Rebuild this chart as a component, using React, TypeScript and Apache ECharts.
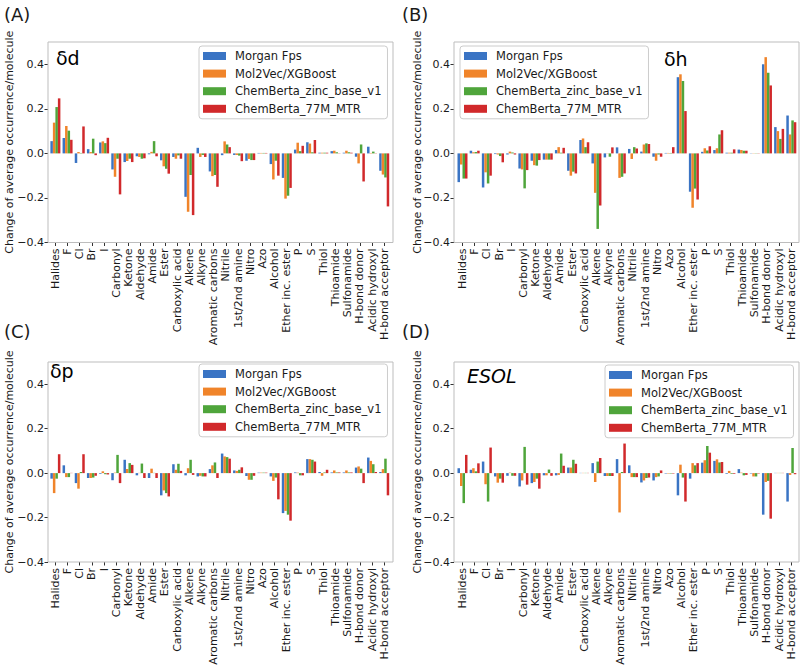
import React, { useEffect, useRef } from 'react';
import * as echarts from 'echarts';

const categories = [
  'Halides', 'F', 'Cl', 'Br', 'I', 'Carbonyl', 'Ketone', 'Aldehyde', 'Amide', 'Ester',
  'Carboxylic acid', 'Alkene', 'Alkyne', 'Aromatic carbons', 'Nitrile', '1st/2nd amine',
  'Nitro', 'Azo', 'Alcohol', 'Ether inc. ester', 'P', 'S', 'Thiol', 'Thioamide',
  'Sulfonamide', 'H-bond donor', 'Acidic hydroxyl', 'H-bond acceptor',
];

const seriesNames = ['Morgan Fps', 'Mol2Vec/XGBoost', 'ChemBerta_zinc_base_v1', 'ChemBerta_77M_MTR'];
const seriesColors = ['#3a74c4', '#f0842a', '#4fa53b', '#d1292b'];

// Panel A: δd
const ddMorgan = [0.055, 0.069, -0.043, 0.019, 0.049, -0.072, -0.039, -0.013, -0.004, -0.031, -0.016, -0.195, 0.025, -0.081, -0.008, -0.007, -0.033, 0.002, -0.048, -0.110, 0.017, 0.050, 0.003, 0.010, 0.003, -0.015, 0.030, -0.078];
const ddMol2Vec = [0.138, 0.123, 0.006, 0.006, 0.054, -0.105, -0.034, -0.016, 0.007, -0.058, -0.024, -0.262, -0.016, -0.102, 0.054, -0.007, -0.025, 0.002, -0.117, -0.203, 0.048, 0.044, 0.003, 0.012, 0.012, -0.045, 0.002, -0.095];
const ddZinc = [0.208, 0.102, 0.002, 0.066, 0.046, -0.024, -0.024, -0.024, 0.055, -0.069, -0.009, -0.097, -0.007, -0.097, 0.040, -0.010, -0.030, 0.002, -0.033, -0.190, 0.010, 0.005, 0.003, 0.005, 0.005, 0.040, 0.008, -0.108];
const dd77M = [0.247, 0.061, 0.121, -0.008, 0.070, -0.184, -0.039, -0.022, -0.013, -0.091, -0.024, -0.277, -0.016, -0.150, 0.028, -0.035, -0.030, 0.002, -0.100, -0.155, 0.034, 0.060, 0.003, 0.001, 0.003, -0.126, 0.001, -0.238];

// Panel B: δh
const dhMorgan = [-0.129, 0.012, -0.153, -0.003, -0.005, -0.068, -0.033, -0.028, 0.015, -0.078, 0.060, -0.045, -0.018, 0.027, 0.020, 0.008, -0.015, 0.002, 0.342, -0.172, 0.007, 0.015, 0.003, 0.017, 0.001, 0.400, 0.118, 0.170];
const dhMol2Vec = [-0.050, 0.005, -0.085, -0.005, 0.008, -0.072, -0.053, -0.028, 0.028, -0.100, 0.067, -0.177, 0.001, -0.110, -0.025, 0.040, -0.033, 0.002, 0.355, -0.244, 0.023, 0.023, 0.003, 0.015, 0.001, 0.432, 0.100, 0.085];
const dhZinc = [-0.113, 0.006, -0.135, -0.012, 0.004, -0.157, -0.055, -0.028, 0.003, -0.082, 0.028, -0.339, -0.015, -0.105, 0.028, 0.045, -0.005, 0.002, 0.325, -0.158, 0.013, 0.085, 0.003, 0.012, 0.001, 0.362, 0.065, 0.148];
const dh77M = [-0.113, 0.012, -0.100, -0.040, -0.005, -0.075, -0.030, -0.028, 0.025, -0.090, 0.050, -0.234, 0.027, -0.090, 0.022, 0.042, -0.015, 0.028, 0.190, -0.207, 0.032, 0.104, 0.018, 0.012, 0.001, 0.305, 0.110, 0.140];

// Panel C: δp
const dpMorgan = [-0.025, 0.035, -0.045, -0.022, -0.003, -0.032, 0.060, -0.010, -0.022, -0.100, 0.040, -0.010, -0.015, 0.018, 0.088, 0.012, -0.013, 0.002, -0.015, -0.180, 0.003, 0.063, 0.005, 0.003, 0.003, 0.025, 0.070, 0.005];
const dpMol2Vec = [-0.090, -0.018, -0.070, -0.022, 0.008, 0.002, 0.018, 0.001, 0.020, -0.078, 0.015, 0.022, -0.012, 0.035, 0.075, 0.010, -0.030, 0.002, -0.035, -0.170, 0.002, 0.063, -0.012, 0.012, 0.012, 0.030, 0.055, 0.018];
const dpZinc = [-0.025, -0.018, 0.005, -0.020, -0.005, 0.082, 0.045, 0.043, 0.001, -0.090, 0.042, 0.060, -0.015, 0.048, 0.072, 0.015, -0.030, 0.002, -0.020, -0.187, -0.010, 0.060, 0.003, 0.003, 0.003, 0.020, 0.040, 0.065];
const dp77M = [0.085, 0.001, 0.085, -0.012, -0.006, -0.045, 0.037, -0.022, -0.022, -0.105, 0.010, -0.008, -0.015, -0.022, 0.065, 0.026, -0.012, 0.002, -0.118, -0.214, -0.010, 0.052, 0.015, 0.003, 0.003, -0.045, 0.005, -0.100];

// Panel D: ESOL
const esMorgan = [0.022, 0.015, 0.052, -0.015, -0.012, -0.060, -0.045, -0.010, -0.010, 0.025, 0.001, 0.045, -0.013, 0.063, 0.035, -0.042, -0.033, -0.002, -0.100, -0.025, 0.047, 0.055, -0.003, 0.018, -0.002, -0.187, 0.001, -0.128];
const esMol2Vec = [-0.058, 0.022, -0.050, -0.043, 0.002, -0.033, -0.040, -0.010, -0.008, 0.025, 0.001, -0.040, -0.013, -0.177, -0.018, -0.033, -0.018, -0.002, 0.038, 0.045, 0.058, 0.062, 0.010, 0.002, -0.015, -0.040, 0.001, -0.008];
const esZinc = [-0.135, 0.008, -0.128, -0.025, -0.012, 0.118, -0.025, 0.016, 0.088, 0.060, 0.001, 0.052, -0.013, 0.005, -0.018, -0.022, -0.015, -0.002, -0.020, 0.035, 0.122, 0.048, -0.003, -0.010, -0.015, -0.035, 0.001, 0.113];
const es77M = [0.082, 0.044, 0.115, -0.043, -0.012, -0.052, -0.070, -0.012, 0.033, 0.042, 0.001, 0.068, -0.013, 0.133, -0.018, -0.020, 0.012, -0.002, -0.128, 0.045, 0.092, 0.050, -0.003, -0.008, -0.002, -0.205, 0.001, -0.005];

const yMin = -0.4;
const yMax = 0.5;
const yInterval = 0.2;
const yAxisTitle = 'Change of average occurrence/molecule';

const FONT = 'DejaVu Sans';
const TEXT = '#1a1a1a';

const panels = [
  {
    label: '(A)', title: 'δd', italic: false,
    data: [ddMorgan, ddMol2Vec, ddZinc, dd77M],
    grid: { left: 49.3, top: 42, width: 341, height: 200.5 },
    frame: { x: 48, y: 42, w: 345, h: 200.5 },
    legendPos: { left: 199, top: 46 },
    titlePos: { x: 56, y: 58 },
    labelPos: { x: 4, y: 14 },
    yTitleX: 9,
  },
  {
    label: '(B)', title: 'δh', italic: false,
    data: [dhMorgan, dhMol2Vec, dhZinc, dh77M],
    grid: { left: 456.4, top: 42, width: 341, height: 200.5 },
    frame: { x: 454, y: 42, w: 345, h: 200.5 },
    legendPos: { left: 460, top: 46 },
    titlePos: { x: 664, y: 59 },
    labelPos: { x: 402, y: 14 },
    yTitleX: 417,
  },
  {
    label: '(C)', title: 'δp', italic: false,
    data: [dpMorgan, dpMol2Vec, dpZinc, dp77M],
    grid: { left: 49.3, top: 362, width: 341, height: 200 },
    frame: { x: 48, y: 362, w: 345, h: 200 },
    legendPos: { left: 199, top: 364 },
    titlePos: { x: 50, y: 371 },
    labelPos: { x: 4, y: 331 },
    yTitleX: 9,
  },
  {
    label: '(D)', title: 'ESOL', italic: true,
    data: [esMorgan, esMol2Vec, esZinc, es77M],
    grid: { left: 456.4, top: 362, width: 341, height: 200 },
    frame: { x: 454, y: 362, w: 345, h: 200 },
    legendPos: { left: 605, top: 365 },
    titlePos: { x: 467, y: 376 },
    labelPos: { x: 402, y: 331 },
    yTitleX: 417,
  },
];

function fmtY(v: number) {
  if (Math.abs(v - yMax) < 1e-9) return '';
  const s = Math.abs(v).toFixed(1);
  return v < -1e-9 ? '\u2212' + s : s;
}

export default function App() {
  const ref = useRef<HTMLDivElement>(null);

  useEffect(() => {
    if (!ref.current) return;
    const chart = echarts.init(ref.current, undefined, { renderer: 'svg' });

    const grids: any[] = [];
    const xAxes: any[] = [];
    const yAxes: any[] = [];
    const series: any[] = [];
    const legends: any[] = [];
    const graphics: any[] = [];

    panels.forEach((p, i) => {
      grids.push({ ...p.grid, containLabel: false, show: false });
      xAxes.push({
        type: 'category',
        gridIndex: i,
        data: categories,
        axisLine: { show: false, onZero: false },
        axisTick: { show: true, alignWithLabel: true, length: 3.5, lineStyle: { color: '#333' } },
        axisLabel: { rotate: 90, interval: 0, fontSize: 11, color: TEXT, fontFamily: FONT, margin: 6 },
        splitLine: { show: false },
      });
      yAxes.push({
        type: 'value',
        gridIndex: i,
        min: yMin,
        max: yMax,
        interval: yInterval,
        offset: p.grid.left - p.frame.x,
        axisLine: { show: false },
        axisTick: { show: true, length: 3.5, lineStyle: { color: '#333' } },
        axisLabel: { fontSize: 11, color: TEXT, fontFamily: FONT, margin: 4, formatter: fmtY, showMaxLabel: false },
        splitLine: { show: false },
      });
      p.data.forEach((vals, s) => {
        series.push({
          type: 'bar',
          name: seriesNames[s],
          xAxisIndex: i,
          yAxisIndex: i,
          data: vals,
          barWidth: 2.5,
          barGap: '0%',
          itemStyle: { color: seriesColors[s] },
          emphasis: { disabled: true },
        });
      });
      legends.push({
        show: true,
        orient: 'vertical',
        left: p.legendPos.left,
        top: p.legendPos.top,
        data: seriesNames,
        selectedMode: false,
        icon: 'rect',
        itemWidth: 23,
        itemHeight: 8,
        itemGap: 5.6,
        padding: [4, 6, 4, 4],
        backgroundColor: 'rgba(255,255,255,0.85)',
        borderColor: '#cccccc',
        borderWidth: 1,
        borderRadius: 3,
        textStyle: { fontSize: 11.5, lineHeight: 12, color: TEXT, fontFamily: FONT, padding: [0, 0, 0, 4] },
      });
      graphics.push({
        type: 'rect',
        shape: { x: p.frame.x, y: p.frame.y, width: p.frame.w, height: p.frame.h },
        style: { fill: 'none', stroke: '#bdbdbd', lineWidth: 1 },
        silent: true,
        z: 5,
      });
      graphics.push({
        type: 'text',
        x: p.labelPos.x,
        y: p.labelPos.y,
        style: { text: p.label, fontSize: 18, fontFamily: FONT, fill: TEXT, verticalAlign: 'middle', align: 'left' },
      });
      graphics.push({
        type: 'text',
        x: p.titlePos.x,
        y: p.titlePos.y,
        style: {
          text: p.title, fontSize: 19, fontFamily: FONT, fill: '#000',
          fontStyle: p.italic ? 'italic' : 'normal', verticalAlign: 'middle', align: 'left',
        },
        z: 10,
      });
      graphics.push({
        type: 'text',
        x: p.yTitleX,
        y: p.frame.y + p.frame.h / 2,
        rotation: Math.PI / 2,
        style: { text: yAxisTitle, fontSize: 11, fontFamily: FONT, fill: TEXT, align: 'center', verticalAlign: 'middle' },
      });
    });

    chart.setOption({
      animation: false,
      backgroundColor: '#ffffff',
      textStyle: { fontFamily: FONT },
      grid: grids,
      xAxis: xAxes,
      yAxis: yAxes,
      legend: legends,
      series,
      graphic: graphics,
    });

    return () => chart.dispose();
  }, []);

  return <div ref={ref} style={{ position: 'fixed', left: 0, top: 0, width: 803, height: 669 }} />;
}
